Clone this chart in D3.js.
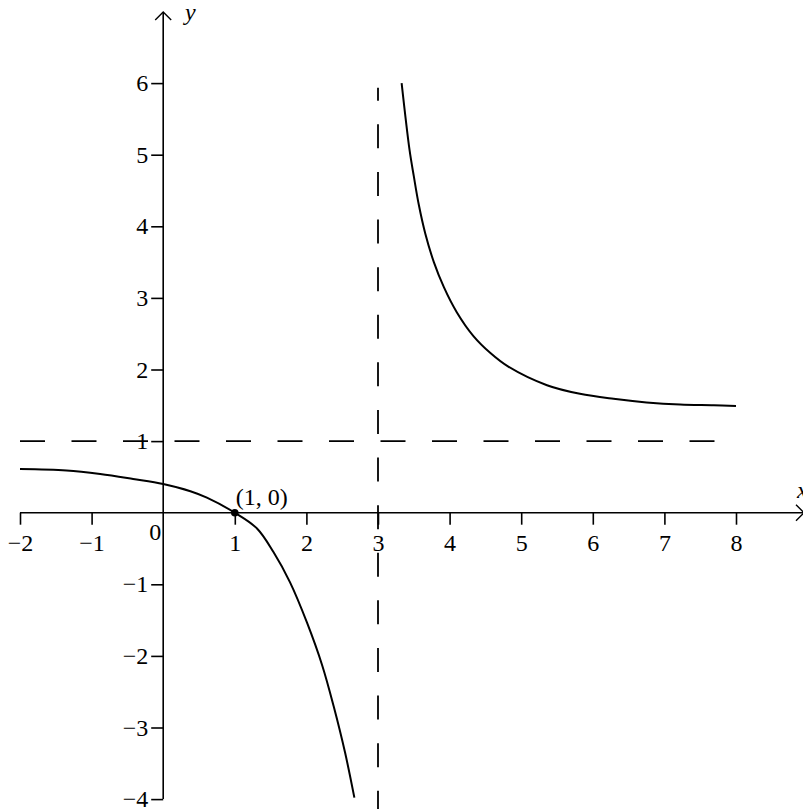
<!DOCTYPE html>
<html>
<head>
<meta charset="utf-8">
<script src="https://cdn.jsdelivr.net/npm/d3@7"></script>
<style>
  body { margin: 0; background: #fff; }
  text { font-family: "Liberation Serif", "Times New Roman", serif; fill: #000; }
</style>
</head>
<body>
<div id="chart-container"></div>
<script>
// --- data ---
const leftX = [-2, -1.35, -0.88, -0.42, 0, 0.38, 0.61, 1, 1.31, 1.54, 1.77, 2.01, 2.22, 2.38, 2.54, 2.67];
const leftY = [0.61, 0.59, 0.54, 0.47, 0.4, 0.3, 0.21, 0, -0.22, -0.55, -0.97, -1.54, -2.13, -2.7, -3.35, -3.98];

const rightX = [3.33, 3.44, 3.5, 3.57, 3.66, 3.78, 3.92, 4.1, 4.33, 4.57, 4.82, 5.36, 5.82, 6.29, 6.75, 7.22, 7.69, 8];
const rightY = [6, 5.07, 4.7, 4.3, 3.9, 3.5, 3.15, 2.8, 2.47, 2.23, 2.04, 1.78, 1.66, 1.59, 1.54, 1.51, 1.5, 1.49];

const xTicks = [-2, -1, 1, 2, 3, 4, 5, 6, 7, 8];
const yTicks = [-4, -3, -2, -1, 1, 2, 3, 4, 5, 6];
const hAsymptote = 1;
const vAsymptote = 3;
const point = { x: 1, y: 0, label: "(1, 0)" };

// --- setup ---
const width = 803;
const height = 809;
const fontSize = 24;

const svg = d3.select("#chart-container")
  .append("svg")
  .attr("width", width)
  .attr("height", height);

const x = d3.scaleLinear().domain([-2, 8]).range([20, 736]);
const y = d3.scaleLinear().domain([-4, 6]).range([799.1, 83.1]);

const fmt = d => (d < 0 ? "\u2212" + Math.abs(d) : String(d));

// dashed asymptotes
svg.append("line")
  .attr("x1", x(-2)).attr("x2", x(7.71))
  .attr("y1", y(hAsymptote)).attr("y2", y(hAsymptote))
  .attr("stroke", "#000").attr("stroke-width", 1.8)
  .attr("stroke-dasharray", "25,26.5");

svg.append("line")
  .attr("x1", x(vAsymptote)).attr("x2", x(vAsymptote))
  .attr("y1", y(5.935)).attr("y2", height + 10)
  .attr("stroke", "#000").attr("stroke-width", 1.8)
  .attr("stroke-dasharray", "24,23.6")
  .attr("stroke-dashoffset", 11);

// x axis
const xAxis = svg.append("g")
  .attr("transform", `translate(0,${y(0)})`)
  .call(d3.axisBottom(x).tickValues(xTicks).tickSize(12).tickFormat(fmt));
xAxis.select(".domain").remove();
xAxis.selectAll(".tick line").attr("stroke", "#000").attr("stroke-width", 1.6);
xAxis.selectAll(".tick text")
  .attr("y", 38).attr("dy", null)
  .style("font-size", fontSize + "px")
  .style("font-family", "'Liberation Serif', serif");

svg.append("line")
  .attr("x1", x(-2)).attr("x2", 804)
  .attr("y1", y(0)).attr("y2", y(0))
  .attr("stroke", "#000").attr("stroke-width", 1.6);
svg.append("path")
  .attr("d", `M796,${y(0) - 8}L804,${y(0)}L796,${y(0) + 8}`)
  .attr("fill", "none").attr("stroke", "#000").attr("stroke-width", 1.4);

// y axis
const yAxis = svg.append("g")
  .attr("transform", `translate(${x(0)},0)`)
  .call(d3.axisLeft(y).tickValues(yTicks).tickSize(12).tickFormat(fmt));
yAxis.select(".domain").remove();
yAxis.selectAll(".tick line").attr("stroke", "#000").attr("stroke-width", 1.6);
yAxis.selectAll(".tick text")
  .style("font-size", fontSize + "px")
  .style("font-family", "'Liberation Serif', serif");

svg.append("line")
  .attr("x1", x(0)).attr("x2", x(0))
  .attr("y1", 12).attr("y2", y(-4))
  .attr("stroke", "#000").attr("stroke-width", 1.6);
svg.append("path")
  .attr("d", `M${x(0) - 8},20L${x(0)},12L${x(0) + 8},20`)
  .attr("fill", "none").attr("stroke", "#000").attr("stroke-width", 1.4);

// origin label and axis names
svg.append("text")
  .attr("x", x(0) - 8).attr("y", y(0) + 27)
  .attr("text-anchor", "middle")
  .style("font-size", fontSize + "px")
  .text("0");

svg.append("text")
  .attr("x", 185).attr("y", 20)
  .style("font-size", fontSize + "px")
  .style("font-style", "italic")
  .text("y");

svg.append("text")
  .attr("x", 797).attr("y", 498)
  .style("font-size", fontSize + "px")
  .style("font-style", "italic")
  .text("x");

// curve branches
const line = d3.line()
  .x(d => x(d[0]))
  .y(d => y(d[1]))
  .curve(d3.curveCatmullRom.alpha(0.5));

[[leftX, leftY], [rightX, rightY]].forEach(([xs, ys]) => {
  svg.append("path")
    .datum(d3.zip(xs, ys))
    .attr("d", line)
    .attr("fill", "none")
    .attr("stroke", "#000")
    .attr("stroke-width", 2);
});

// marked point
svg.append("circle")
  .attr("cx", x(point.x)).attr("cy", y(point.y))
  .attr("r", 3.8).attr("fill", "#000");

svg.append("text")
  .attr("x", x(point.x) + 1).attr("y", y(point.y) - 8)
  .style("font-size", fontSize + "px")
  .text(point.label);
</script>
</body>
</html>
